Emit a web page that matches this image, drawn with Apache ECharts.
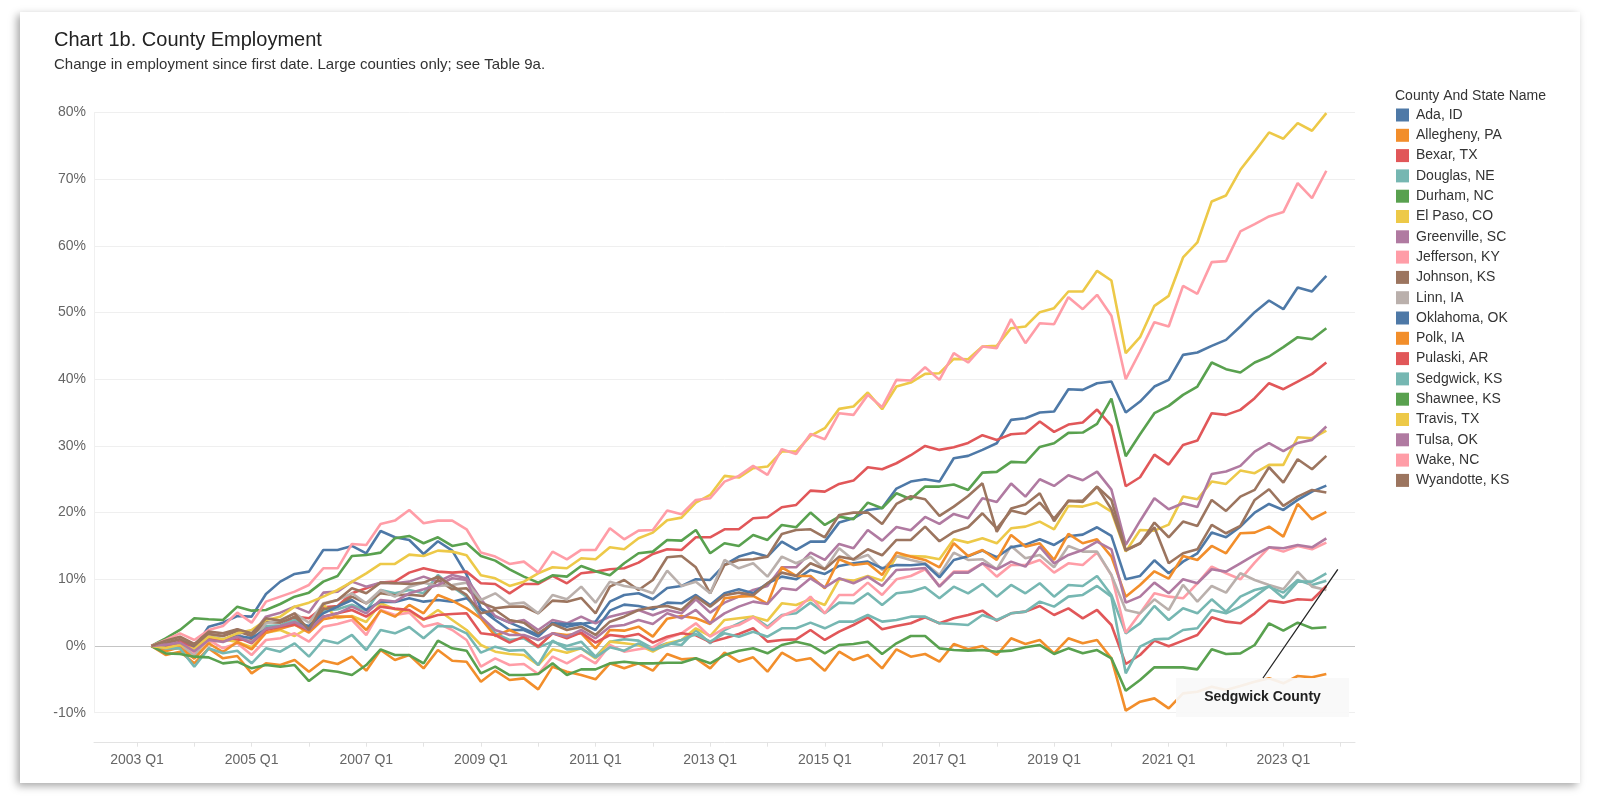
<!DOCTYPE html>
<html><head><meta charset="utf-8">
<script src="https://cdn.jsdelivr.net/npm/echarts@6/dist/echarts.min.js"></script>
<style>
html,body{margin:0;padding:0;background:#fff;width:1600px;height:810px;overflow:hidden}
#card{position:absolute;left:20px;top:12px;width:1560px;height:771px;background:#fff;box-shadow:-3px 3px 8px rgba(0,0,0,0.35)}
#chart{position:absolute;left:0;top:0;width:1600px;height:810px}
</style></head><body>
<div id="card"></div><div id="chart"></div>
<script>
// Quarterly data, first point = 2003 Q2 (quarter index 1, 2003 Q1 = 0), last = 2023 Q4
const firstQuarterIndex = 1;
const tickLabels = ['2003 Q1','2005 Q1','2007 Q1','2009 Q1','2011 Q1','2013 Q1','2015 Q1','2017 Q1','2019 Q1','2021 Q1','2023 Q1'];
const countyNames = ['Ada, ID','Allegheny, PA','Bexar, TX','Douglas, NE','Durham, NC','El Paso, CO','Greenville, SC','Jefferson, KY','Johnson, KS','Linn, IA','Oklahoma, OK','Polk, IA','Pulaski, AR','Sedgwick, KS','Shawnee, KS','Travis, TX','Tulsa, OK','Wake, NC','Wyandotte, KS'];

const ada = [0,-0.1,0.65,-0.35,2.9,3.5,4.5,4.4,7.8,9.65,
10.8,11.15,14.4,14.4,15.0,13.9,17.25,16.3,15.9,13.8,
15.7,14.3,10.7,5.65,4.4,3.5,2.6,1.65,3.5,2.9,
3.3,3.65,6.65,7.65,7.9,7.0,8.7,9.0,10.0,9.9,
12.15,13.4,14.0,13.4,15.65,14.4,15.65,15.65,18.5,19.15,
20.4,20.7,23.6,24.65,25.0,24.65,28.15,28.5,29.4,30.4,
33.9,34.15,35.0,35.15,38.5,38.4,39.4,39.65,35.0,36.65,
38.9,39.9,43.65,44.0,45.0,45.9,47.9,50.05,51.8,50.5,
53.75,53.15,55.5];
const allegheny = [0,-1.35,-0.85,-2.6,-0.35,-1.85,-1.5,-4.1,-2.6,-2.85,
-2.1,-3.85,-2.2,-2.7,-1.6,-3.7,-0.6,-2.1,-1.35,-3.35,
-0.6,-2.2,-2.35,-5.35,-3.7,-5.1,-4.85,-6.5,-3.1,-3.85,
-4.35,-5.0,-2.6,-3.35,-2.6,-3.7,-1.2,-2.0,-1.85,-3.35,
-1.0,-2.35,-1.7,-3.85,-1.0,-2.2,-1.85,-3.7,-0.85,-2.1,
-1.35,-3.35,-0.5,-1.6,-1.2,-2.35,0.3,-0.5,0.0,-1.35,
1.15,0.3,0.9,-1.1,1.15,0.4,0.9,-1.85,-9.7,-8.35,
-7.85,-9.35,-7.1,-6.85,-6.1,-6.6,-6.0,-5.35,-4.85,-5.6,
-4.5,-4.7,-4.2];
const bexar = [0,-0.35,0.15,0.15,0.65,0.9,0.9,1.0,2.65,2.9,
4.4,4.15,5.8,6.0,7.9,8.65,9.5,9.65,11.0,11.65,
11.15,11.0,11.15,9.4,9.3,7.9,9.3,9.3,10.5,9.4,
10.9,11.15,11.5,11.65,12.5,13.8,14.5,14.4,16.3,16.3,
17.5,17.5,19.15,19.3,20.8,21.15,23.3,23.15,24.3,24.8,
26.8,26.5,27.4,28.6,30.0,29.4,29.8,30.45,31.6,30.9,
31.75,31.9,33.65,32.1,33.2,33.5,35.45,33.0,23.95,25.3,
28.7,27.2,30.15,30.8,34.9,34.65,35.4,37.15,39.4,38.5,
39.65,40.8,42.5];
const douglas = [0,-0.3,0.3,-1.0,1.5,1.0,1.5,0.6,3.0,3.1,
3.9,2.9,5.2,5.5,6.2,5.3,8.4,7.9,8.4,7.9,
10.65,8.9,7.4,4.4,1.9,0.9,1.15,-0.2,0.65,0.0,
0.65,-1.6,0.65,1.0,0.8,-0.35,0.4,0.15,2.4,0.4,
2.4,3.4,4.4,2.9,4.65,4.9,6.5,4.9,6.5,6.4,
7.9,6.15,7.9,8.15,8.8,7.15,8.9,7.9,9.3,7.4,
9.15,7.9,9.4,7.4,9.15,9.0,10.5,7.65,1.9,3.4,
6.0,3.9,5.65,4.9,7.0,5.15,7.4,8.4,8.9,8.0,
9.9,9.15,9.8];
const durham = [0,1.15,2.4,4.15,4.0,3.9,5.9,5.3,5.4,6.3,
7.4,8.0,9.65,10.5,13.5,13.65,14.0,16.15,16.5,15.4,
16.3,15.0,15.4,13.5,12.8,11.5,10.4,9.5,10.6,10.4,
12.0,11.2,10.6,12.4,13.9,14.15,15.9,15.8,17.4,13.9,
15.4,15.0,16.65,15.9,18.15,17.8,20.0,18.15,19.4,19.0,
21.5,20.65,22.9,22.0,23.9,23.9,24.2,23.4,26.0,26.1,
27.6,27.5,29.85,30.4,31.95,32.0,33.3,37.1,28.45,31.75,
34.9,36.0,37.65,38.9,42.5,41.5,41.0,42.5,43.4,44.8,
46.3,46.0,47.65];
const elPaso = [0,-0.5,-0.3,-1.8,0.5,1.0,0.6,-0.2,2.0,2.4,
1.5,2.8,6.2,4.2,4.5,3.6,6.4,5.5,5.2,3.9,
5.4,3.9,2.4,0.15,-0.85,-1.2,-1.35,-2.85,-0.5,-1.0,
-0.35,-1.85,0.65,0.4,0.15,-0.85,0.4,0.9,2.65,1.5,
3.9,4.15,4.4,3.8,6.4,6.15,7.0,6.15,10.0,9.8,
10.5,9.8,13.4,13.5,13.4,13.0,16.0,15.5,16.15,15.4,
17.65,17.9,18.65,17.5,21.0,20.9,21.5,20.15,14.15,17.4,
17.3,18.2,22.4,22.0,24.65,24.3,26.3,25.9,27.15,27.15,
31.3,31.15,32.3];
const greenville = [0,0.3,1.0,-0.3,1.8,1.5,2.5,1.6,4.4,5.0,
5.9,5.0,8.0,8.15,9.65,8.9,9.5,9.4,9.65,10.4,
9.65,10.65,10.15,7.0,4.5,3.5,3.9,2.4,3.9,3.4,
4.4,3.4,4.4,4.9,5.4,4.6,5.4,4.9,7.0,5.0,
6.5,7.4,8.4,9.0,11.8,11.8,14.0,12.9,15.3,14.65,
17.4,15.8,17.85,17.35,19.35,18.3,19.8,19.15,22.15,21.6,
24.35,22.4,25.0,24.0,25.6,24.85,26.15,23.45,15.15,18.75,
22.15,20.5,21.4,20.85,25.8,26.15,27.0,29.15,30.4,29.2,
30.45,30.9,32.9];
const jefferson = [0,-0.35,0.4,-1.1,0.9,-0.35,0.4,-1.35,0.9,1.15,
1.9,0.65,2.9,3.3,3.9,1.65,5.4,4.65,5.0,2.9,
3.4,2.4,0.9,-3.1,-1.85,-2.85,-2.7,-4.2,-1.6,-2.6,
-1.35,-2.6,0.15,-0.85,-0.5,-0.2,1.15,1.9,3.4,1.4,
2.65,3.15,4.3,2.65,4.5,5.4,7.4,4.9,7.65,7.65,
9.5,7.65,10.0,10.5,11.5,9.0,11.15,11.15,12.4,10.4,
12.15,12.15,12.9,11.0,12.4,12.15,14.0,10.65,2.0,4.9,
7.9,7.4,7.15,9.4,11.9,10.9,10.0,12.5,14.8,14.15,
15.0,14.5,15.5];
const johnson = [0,0.5,1.0,0.0,1.8,1.5,2.2,1.5,3.6,3.5,
4.4,2.6,5.5,5.9,7.4,6.4,7.9,7.6,7.7,7.5,
9.9,8.5,8.65,6.5,5.65,5.9,5.9,4.9,6.8,6.65,
7.2,4.9,8.9,9.9,8.4,9.9,13.3,13.5,11.8,7.9,
12.15,12.9,13.0,13.4,16.8,17.4,17.5,16.3,19.65,20.0,
20.0,18.3,21.3,22.45,22.0,19.5,20.9,22.5,24.4,17.1,
20.6,21.2,22.9,18.7,21.8,21.6,23.9,20.5,14.3,15.35,
18.5,16.3,18.65,18.0,21.9,20.25,22.4,23.4,26.8,24.5,
28.0,26.5,28.5];
const linn = [0,-0.5,0.3,-1.5,1.4,0.9,1.9,0.5,3.4,3.9,
4.9,3.5,6.4,6.9,7.9,6.4,8.4,7.4,8.9,9.5,
9.0,9.15,9.5,6.9,7.9,6.3,6.5,4.9,7.65,7.0,
8.9,6.5,9.65,9.0,8.65,7.9,11.3,9.0,9.65,7.9,
12.9,11.65,12.4,10.4,13.4,12.4,13.4,11.5,14.65,12.9,
13.65,11.4,13.5,12.9,12.4,10.65,14.0,12.9,13.0,11.5,
15.0,13.15,13.65,11.8,15.0,14.15,14.15,10.65,5.4,4.9,
7.0,5.4,9.15,6.65,9.0,8.0,10.9,9.9,9.15,8.5,
11.15,8.9,8.4];
const oklahoma = [0,-0.3,0.5,-0.4,1.0,0.9,1.5,1.2,2.5,2.9,
3.4,3.0,4.9,5.9,6.9,5.4,6.65,6.6,7.15,6.65,
6.9,6.65,7.15,5.5,3.9,2.4,2.4,1.4,3.4,3.3,
3.4,2.4,5.3,6.2,6.0,5.5,6.5,6.4,7.65,6.15,
7.9,8.5,7.9,9.4,10.4,10.0,11.4,10.8,12.0,12.4,
12.65,11.65,12.15,12.1,12.3,10.3,12.9,13.45,14.3,13.3,
14.8,15.2,16.0,15.15,16.45,16.7,17.8,16.5,10.0,10.5,
12.85,10.9,12.65,13.9,17.0,16.3,17.9,20.0,21.3,20.4,
21.9,23.15,24.05];
const polk = [0,-0.8,-0.2,-1.9,0.4,-0.9,0.6,-0.5,2.0,2.6,
3.2,2.0,4.0,4.4,4.4,2.4,5.3,4.4,6.15,4.9,
7.65,6.8,5.65,4.15,1.5,2.4,1.4,-0.1,1.9,1.65,
1.9,-0.35,2.4,2.3,2.9,1.4,4.1,4.5,4.15,3.3,
7.15,7.4,7.5,6.3,11.8,10.5,10.5,8.65,13.0,12.15,
12.4,10.65,14.0,13.4,12.9,11.8,15.4,13.5,14.4,12.9,
16.65,14.9,15.4,12.9,16.8,15.4,16.0,13.4,7.4,9.15,
11.2,10.1,13.5,12.9,15.0,13.9,16.9,17.0,17.9,16.4,
21.3,19.0,20.1];
const pulaski = [0,-0.3,0.6,-0.5,1.0,0.8,1.3,0.4,2.4,2.9,
3.2,2.4,4.4,4.9,5.4,4.4,5.9,5.6,5.4,4.0,
4.65,4.8,4.9,1.9,1.65,0.5,1.4,-0.1,1.9,1.15,
2.0,0.5,1.65,1.4,1.8,0.5,1.4,1.9,1.6,0.6,
1.15,1.8,2.65,0.65,0.9,1.0,2.4,0.9,2.15,3.15,
4.3,2.5,3.0,3.4,4.3,3.4,4.15,4.65,5.3,3.8,
4.9,5.15,6.0,4.65,5.65,4.15,5.4,3.15,-2.7,-1.35,
0.8,-0.05,0.8,1.65,4.3,3.65,3.4,4.9,6.8,6.5,
7.0,6.9,9.0];
const sedgwick = [0,-0.35,-0.35,-3.1,-0.35,-1.1,-0.7,-2.6,-0.35,-0.85,
0.4,-1.6,0.9,0.4,1.65,-0.6,2.4,1.9,2.85,1.15,
3.0,2.9,1.9,-1.0,-0.1,-0.7,-0.6,-2.85,0.8,-0.5,
-0.35,-1.7,-0.2,-0.7,0.4,-0.6,0.15,0.9,1.8,0.65,
1.9,1.4,2.15,1.4,2.65,2.65,3.5,2.65,3.65,3.65,
4.65,3.65,3.9,4.4,4.4,3.4,3.3,3.15,4.65,3.9,
4.9,5.15,6.65,5.9,7.4,7.65,9.0,7.4,-4.1,-0.1,
1.0,1.1,2.4,2.65,5.4,4.9,5.9,7.4,9.0,7.2,
9.65,9.65,10.9];
const shawnee = [0,-1.1,-1.2,-1.6,-1.7,-2.6,-2.35,-3.35,-2.85,-3.1,
-2.85,-5.25,-3.6,-3.85,-4.35,-2.85,-0.5,-1.35,-1.35,-2.6,
0.8,-0.35,-0.7,-4.1,-3.1,-4.35,-4.35,-4.2,-2.6,-4.35,
-3.5,-3.5,-2.6,-2.35,-2.6,-2.6,-2.5,-2.5,-1.85,-2.6,
-1.35,-0.7,-0.35,-1.1,0.15,0.65,0.15,-1.1,0.15,0.3,
0.65,-1.2,0.4,1.5,1.5,-0.35,-0.6,-0.7,-0.6,-0.85,
-0.7,-0.2,0.15,-1.2,-0.35,-1.1,-0.6,-1.85,-6.7,-5.1,
-3.2,-3.2,-3.2,-3.5,-0.5,-1.2,-1.1,0.15,3.4,2.3,
3.5,2.65,2.8];
const travis = [0,-0.3,0.2,-0.5,1.4,1.0,1.9,2.4,3.9,4.4,
5.9,6.5,7.4,8.4,9.6,10.9,12.3,12.3,13.7,13.5,
14.3,14.15,13.6,10.6,10.15,9.0,9.65,10.9,11.8,11.65,
13.15,13.0,14.8,14.5,16.15,17.0,18.85,19.25,21.5,22.65,
25.5,25.25,26.65,26.9,29.15,29.15,31.5,32.65,35.55,35.9,
38.0,35.5,38.9,39.5,40.8,40.9,43.05,43.0,44.9,45.0,
47.65,47.9,50.05,50.65,53.15,53.15,56.25,54.8,43.9,46.3,
51.0,52.5,58.25,60.5,66.65,67.55,71.4,74.15,77.0,76.05,
78.4,77.25,79.9];
const tulsa = [0,0.2,0.5,-0.8,0.9,0.6,1.4,0.5,2.6,3.0,
3.6,2.4,4.4,4.9,5.9,4.9,6.9,6.65,7.9,8.5,
9.15,10.15,9.9,4.4,2.4,1.65,1.65,0.9,1.9,1.4,
2.4,1.15,2.9,3.15,3.9,3.3,4.9,4.15,5.4,3.4,
4.9,5.9,6.65,6.3,8.65,8.4,10.15,8.8,10.15,9.4,
10.4,9.0,11.4,11.5,11.7,8.9,11.0,11.0,12.4,11.5,
12.65,11.9,14.9,12.4,13.65,14.4,15.65,14.5,6.5,7.4,
9.5,7.9,10.0,9.4,11.5,11.15,12.4,13.65,14.8,14.65,
15.15,14.8,16.15];
const wake = [0,0.9,1.9,0.9,2.4,3.0,5.0,3.5,6.65,7.4,
8.15,9.15,11.65,11.65,15.3,15.15,18.3,18.8,20.4,18.4,
18.8,18.8,17.5,14.0,13.4,12.3,12.65,11.0,14.15,13.0,
14.4,14.4,17.65,16.0,17.3,17.4,20.3,19.75,21.9,22.15,
24.65,25.5,27.0,25.65,29.5,28.8,31.8,31.0,34.9,34.65,
37.65,35.8,39.9,39.8,41.8,39.9,43.9,42.5,44.9,44.65,
49.0,45.4,48.4,48.25,52.3,50.5,52.65,49.5,40.0,44.15,
48.55,47.9,54.0,52.8,57.55,57.7,62.15,63.25,64.4,65.05,
69.4,67.15,71.25];
const wyandotte = [0,0.8,1.4,0.3,2.15,1.9,2.5,1.9,4.15,3.8,
4.9,2.4,6.3,6.9,8.65,7.9,9.5,9.4,9.3,9.5,
10.4,9.0,7.65,4.9,5.4,3.9,3.5,1.9,3.3,2.4,
2.9,1.65,3.65,4.4,5.4,5.8,6.0,5.4,7.4,5.9,
7.6,8.0,7.6,9.4,11.0,10.5,12.4,11.5,13.4,13.0,
14.5,13.6,15.9,15.9,17.9,15.7,17.1,17.8,19.9,17.6,
20.3,19.8,21.5,19.1,21.7,21.8,23.9,21.9,14.4,15.4,
17.8,12.4,13.9,14.5,18.15,16.9,18.0,21.9,23.5,21.0,
22.4,23.4,23.0];

const seriesValues = [ada, allegheny, bexar, douglas, durham, elPaso, greenville, jefferson, johnson, linn, oklahoma, polk, pulaski, sedgwick, shawnee, travis, tulsa, wake, wyandotte];
const palette = ['#4e79a7','#f28e2b','#e15759','#76b7b2','#59a14f','#edc948','#b07aa1','#ff9da7','#9c755f','#bab0ac'];

const FONT = '"Liberation Sans", Arial, sans-serif';
const chart = echarts.init(document.getElementById('chart'), null, {renderer: 'canvas'});

const series = countyNames.map((name, i) => ({
  name: name,
  type: 'line',
  data: seriesValues[i].map((v, k) => [firstQuarterIndex + k, v]),
  showSymbol: false,
  symbol: 'none',
  lineStyle: { width: 2.6, color: palette[i % palette.length] },
  itemStyle: { color: palette[i % palette.length] },
  emphasis: { disabled: true },
  z: 2
}));

const gridColors = ['#efefef','#c4c4c4','#efefef','#efefef','#efefef','#efefef','#efefef','#efefef','#efefef','#efefef'];

chart.setOption({
  animation: false,
  textStyle: { fontFamily: FONT },
  title: [
    { text: 'Chart 1b. County Employment', left: 49, top: 25, textStyle: { fontFamily: FONT, fontSize: 20, fontWeight: 'normal', color: '#222' } },
    { text: 'Change in employment since first date. Large counties only; see Table 9a.', left: 49, top: 52, textStyle: { fontFamily: FONT, fontSize: 15, fontWeight: 'normal', color: '#333' } },
    { text: 'County And State Name', left: 1390, top: 84, textStyle: { fontFamily: FONT, fontSize: 14, fontWeight: 'normal', color: '#333' } }
  ],
  legend: {
    orient: 'vertical', left: 1391, top: 103, icon: 'rect', itemWidth: 13, itemHeight: 13, itemGap: 6.3,
    selectedMode: false, data: countyNames,
    textStyle: { fontFamily: FONT, fontSize: 14, color: '#333', padding: [0, 0, 0, 2] }
  },
  grid: { left: 94, top: 112.4, width: 1261, height: 600.3, containLabel: false },
  xAxis: {
    type: 'value', min: -3, max: 85, offset: 30,
    axisLine: { show: true, onZero: false, lineStyle: { color: '#e3e3e3', width: 1 } },
    axisTick: { show: true, length: 4, lineStyle: { color: '#e3e3e3' }, customValues: Array.from({length: 22}, (_, i) => i * 4) },
    axisLabel: { customValues: tickLabels.map((_, i) => i * 8), formatter: v => tickLabels[Math.round(v / 8)] || '', color: '#666', fontSize: 14, fontFamily: FONT, margin: 10 },
    splitLine: { show: false }
  },
  yAxis: {
    type: 'value', min: -10, max: 80, interval: 10,
    axisLine: { show: true, onZero: false, lineStyle: { color: '#f0f0f0' } },
    axisTick: { show: false },
    axisLabel: { formatter: '{value}%', color: '#666', fontSize: 14, fontFamily: FONT, margin: 8 },
    splitLine: { show: true, lineStyle: { color: gridColors, width: 1 } }
  },
  series: series
});

// Annotation for Sedgwick County, anchored to the chart's scales
const tip = chart.convertToPixel({gridIndex: 0}, [83.8, 11.5]);
const boxX = 1176, boxY = 678, boxW = 173, boxH = 39;
chart.setOption({
  graphic: [
    { type: 'rect', shape: { x: boxX, y: boxY, width: boxW, height: boxH }, style: { fill: 'rgba(249,249,249,0.92)' }, z: 10 },
    { type: 'text', x: boxX + boxW / 2, y: boxY + boxH / 2, style: { text: 'Sedgwick County', fill: '#222', font: 'bold 14px ' + FONT, align: 'center', verticalAlign: 'middle' }, z: 11 },
    { type: 'line', shape: { x1: boxX + 87, y1: boxY, x2: tip[0], y2: tip[1] }, style: { stroke: '#222', lineWidth: 1.3 }, z: 11 }
  ]
});
</script>
</body></html>
